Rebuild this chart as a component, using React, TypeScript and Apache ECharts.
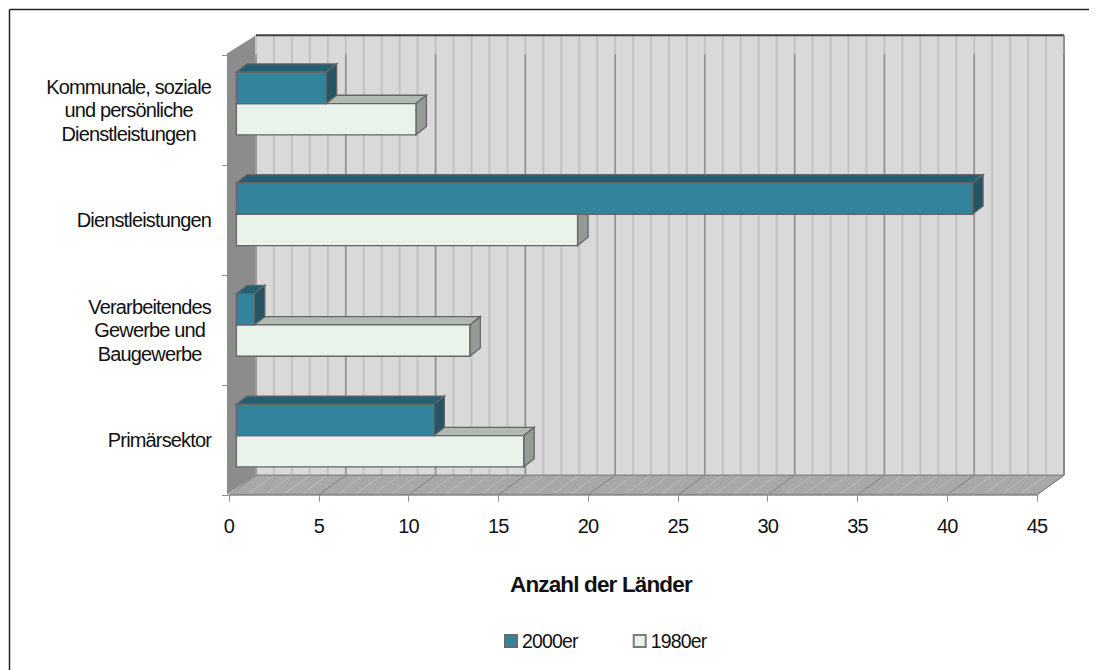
import React, { useEffect, useRef } from "react";
import * as echarts from "echarts";

const categories = [
  "Primärsektor",
  "Verarbeitendes\nGewerbe und\nBaugewerbe",
  "Dienstleistungen",
  "Kommunale, soziale\nund persönliche\nDienstleistungen",
];
const values2000 = [11, 1, 41, 5];
const values1980 = [16, 13, 19, 10];
const minorTicks = Array.from({ length: 46 }, (_, i) => i);

const DX = 27;
const DY = 19.5;
const WALL_H = 440;
const BAR_H = 31.3;
const FONT = "'Liberation Sans', Arial, sans-serif";
const LABEL_SIZE = 20;
const TRACK = 0.85;

function labelWidth(text: string) {
  const ctx = document.createElement("canvas").getContext("2d")!;
  ctx.font = `${LABEL_SIZE}px ${FONT}`;
  return Math.max(...text.split("\n").map((l) => ctx.measureText(l).width - TRACK * l.length));
}

function wallRender(p: any, api: any) {
  const cs = p.coordSys;
  const x0 = cs.x, x1 = cs.x + cs.width, y0 = cs.y + cs.height, yT = cs.y;
  const ch: any[] = [];
  const backL = x0 + DX, backR = x1 + DX, backB = y0 - DY, backT = backB - WALL_H;
  ch.push({ type: "polygon", shape: { points: [[backL, backT], [backR, backT], [backR, backB], [backL, backB]] }, style: { fill: "#d9d9d9" } });
  ch.push({ type: "polygon", shape: { points: [[x0 - 2, yT - 2], [backL, backT], [backL, backB], [x0 - 2, y0]] }, style: { fill: "#8c8c8c" } });
  ch.push({ type: "polygon", shape: { points: [[x0, y0], [backL, backB], [backR, backB], [x1, y0]] }, style: { fill: "#a8a8a8" } });
  minorTicks.forEach((t) => {
    const fx = api.coord([t, 0])[0];
    const bx = fx + DX;
    const major = t % 5 === 0;
    ch.push({ type: "line", shape: { x1: bx, y1: backT, x2: bx, y2: backB }, style: { stroke: "#c2c2c2", lineWidth: 2 } });
    if (major) ch.push({ type: "line", shape: { x1: bx, y1: backT + 19, x2: bx, y2: backB }, style: { stroke: "#8f8f8f", lineWidth: 1.5 } });
    ch.push({ type: "line", shape: { x1: fx, y1: y0, x2: bx, y2: backB }, style: { stroke: major ? "#7f7f7f" : "#bdbdbd", lineWidth: 1 } });
  });
  ch.push({ type: "line", shape: { x1: backL, y1: backT, x2: backR, y2: backT }, style: { stroke: "#404040", lineWidth: 2 } });
  ch.push({ type: "line", shape: { x1: backL, y1: backB, x2: backR, y2: backB }, style: { stroke: "#8a8a8a", lineWidth: 1.5 } });
  ch.push({ type: "line", shape: { x1: backR, y1: backT, x2: backR, y2: backB }, style: { stroke: "#808080", lineWidth: 1.5 } });
  ch.push({ type: "line", shape: { x1: backR, y1: backB, x2: x1, y2: y0 }, style: { stroke: "#808080", lineWidth: 1 } });
  ch.push({ type: "line", shape: { x1: x0, y1: y0, x2: x1, y2: y0 }, style: { stroke: "#8a8a8a", lineWidth: 2 } });
  return { type: "group", children: ch };
}

function barRender(front: string, topC: string, side: string, above: boolean) {
  return (_p: any, api: any) => {
    const v = api.value(0);
    const c = api.coord([v, api.value(1)]);
    const o = api.coord([0, api.value(1)]);
    const shift = 7.4;
    const l = o[0] + shift, r = c[0] + shift;
    const t = above ? c[1] - BAR_H : c[1], b = t + BAR_H;
    const dx = 10.5, dy = 8.3;
    const border = { stroke: "#666666", lineWidth: 1.3 };
    return {
      type: "group",
      children: [
        { type: "polygon", shape: { points: [[l, t], [l + dx, t - dy], [r + dx, t - dy], [r, t]] }, style: { fill: topC, ...border } },
        { type: "polygon", shape: { points: [[r, t], [r + dx, t - dy], [r + dx, b - dy], [r, b]] }, style: { fill: side, ...border } },
        { type: "rect", shape: { x: l, y: t, width: r - l, height: b - t }, style: { fill: front, ...border } },
      ],
    };
  };
}

export default function App() {
  const ref = useRef<HTMLDivElement>(null);
  useEffect(() => {
    const chart = echarts.init(ref.current!, null, { renderer: "svg" });
    const common = { min: 0, max: 45, interval: 5 };
    chart.setOption({
      animation: false,
      textStyle: { fontFamily: FONT },
      title: {
        text: "Anzahl der Länder",
        left: 510 - 8, top: 573 - 8, padding: 0,
        textStyle: { fontSize: 22.5, fontWeight: "bold", color: "#111", fontFamily: FONT },
      },
      grid: [
        { left: 229 - 8, top: 55.5 - 8, width: 808, height: 439.3, outerBoundsMode: "none" },
        { left: 229 - 8, top: 48.2 - 8, width: 808, height: 442.8, outerBoundsMode: "none" },
      ],
      xAxis: [
        {
          type: "value", gridIndex: 0, ...common,
          axisLine: { show: false },
          axisTick: { show: true, length: 7, lineStyle: { color: "#909090" } },
          axisLabel: { fontSize: LABEL_SIZE, color: "#111", margin: 21, fontFamily: FONT },
          splitLine: { show: false },
        },
        { type: "value", gridIndex: 1, ...common, show: false, splitLine: { show: false } },
      ],
      yAxis: [
        {
          type: "category", gridIndex: 0,
          data: categories.map((c) => ({ value: c, textStyle: { align: "center", padding: [0, labelWidth(c), 0, 0] } })),
          axisLine: { show: false },
          axisTick: { show: true, length: 7, lineStyle: { color: "#909090" } },
          axisLabel: { fontSize: LABEL_SIZE, color: "#111", margin: 18, lineHeight: 23.5, align: "center", fontFamily: FONT },
        },
        { type: "category", gridIndex: 1, data: categories, show: false },
      ],
      legend: {
        data: ["2000er", "1980er"],
        left: 504 - 8, top: 631 - 8, padding: 0,
        itemWidth: 12, itemHeight: 12, itemGap: 50,
        icon: "rect",
        textStyle: { fontSize: 19.5, color: "#111", fontFamily: FONT },
      },
      series: [
        { type: "custom", name: "walls", xAxisIndex: 0, yAxisIndex: 0, silent: true, clip: false, z: 1, data: [[0, 0]], renderItem: wallRender },
        {
          type: "custom", name: "1980er", xAxisIndex: 1, yAxisIndex: 1, clip: false, z: 2,
          itemStyle: { color: "#e9f3ea", borderColor: "#7a7a7a", borderWidth: 1.5 },
          encode: { x: 0, y: 1 },
          data: values1980.map((v, i) => [v, i]),
          renderItem: barRender("#e9f3ea", "#b1bab2", "#939b94", false),
        },
        {
          type: "custom", name: "2000er", xAxisIndex: 1, yAxisIndex: 1, clip: false, z: 3,
          itemStyle: { color: "#31849b", borderColor: "#6a6a6a", borderWidth: 1.5 },
          encode: { x: 0, y: 1 },
          data: values2000.map((v, i) => [v, i]),
          renderItem: barRender("#31849b", "#235f70", "#235566", true),
        },
      ],
      graphic: [
        { type: "line", silent: true, z: 100, shape: { x1: 1.5, y1: 1.5, x2: 1089, y2: 1.5 }, style: { stroke: "#222", lineWidth: 1.5 } },
        { type: "line", silent: true, z: 100, shape: { x1: 1.5, y1: 1.5, x2: 1.5, y2: 662 }, style: { stroke: "#222", lineWidth: 1.5 } },
      ],
    });
    return () => chart.dispose();
  }, []);
  return <div ref={ref} style={{ width: 1089, height: 662, letterSpacing: `-${TRACK}px` }} />;
}
